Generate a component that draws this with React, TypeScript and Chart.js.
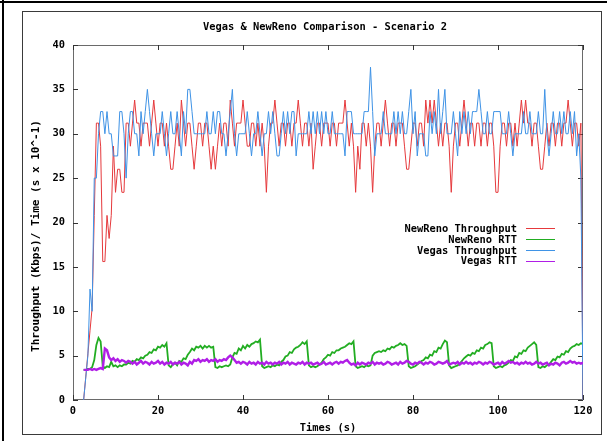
import { useEffect, useRef } from "react";
import { Chart, registerables } from "chart.js";

Chart.register(...registerables);

const TITLE = "Vegas & NewReno Comparison - Scenario 2";
const X_TITLE = "Times (s)";
const Y_TITLE = "Throughput (Kbps)/ Time (s x 10^-1)";

const TIME_START = 2.5;
const TIME_STEP = 0.5;

const xTicks = [0, 20, 40, 60, 80, 100, 120];
const yTicks = [0, 5, 10, 15, 20, 25, 30, 35, 40];

const seriesLabels = ["NewReno Throughput", "NewReno RTT", "Vegas Throughput", "Vegas RTT"];
const seriesColors = ["#e6393c", "#22ad22", "#3f93e6", "#b01ee6"];

const newRenoThroughput = [
  0, 2.6, 5.2, 7.8, 10.4, 20.8, 31.2, 31.2, 28.6, 15.6,
  15.6, 20.8, 18.2, 20.8, 28.6, 23.4, 26, 26, 23.4, 23.4,
  31.2, 31.2, 28.6, 31.2, 33.8, 31.2, 31.2, 28.6, 31.2, 31.2,
  31.2, 28.6, 31.2, 33.8, 31.2, 28.6, 31.2, 31.2, 28.6, 31.2,
  28.6, 26, 26, 28.6, 31.2, 28.6, 33.8, 31.2, 28.6, 31.2,
  31.2, 28.6, 26, 28.6, 31.2, 31.2, 28.6, 31.2, 31.2, 28.6,
  26, 28.6, 26, 28.6, 31.2, 28.6, 31.2, 31.2, 28.6, 33.8,
  31.2, 28.6, 31.2, 31.2, 31.2, 33.8, 31.2, 28.6, 28.6, 31.2,
  31.2, 28.6, 31.2, 28.6, 31.2, 28.6, 23.4, 28.6, 31.2, 31.2,
  33.8, 31.2, 28.6, 31.2, 31.2, 28.6, 31.2, 31.2, 28.6, 31.2,
  31.2, 33.8, 31.2, 28.6, 31.2, 31.2, 28.6, 31.2, 26, 28.6,
  31.2, 31.2, 28.6, 31.2, 31.2, 31.2, 28.6, 31.2, 31.2, 28.6,
  31.2, 31.2, 31.2, 33.8, 31.2, 28.6, 31.2, 28.6, 23.4, 28.6,
  26, 31.2, 31.2, 28.6, 31.2, 28.6, 23.4, 28.6, 31.2, 31.2,
  28.6, 31.2, 33.8, 31.2, 28.6, 31.2, 31.2, 28.6, 31.2, 31.2,
  31.2, 28.6, 26, 26, 28.6, 31.2, 31.2, 28.6, 31.2, 31.2,
  28.6, 33.8, 31.2, 33.8, 31.2, 33.8, 31.2, 28.6, 31.2, 28.6,
  31.2, 31.2, 28.6, 23.4, 28.6, 31.2, 31.2, 28.6, 31.2, 33.8,
  31.2, 28.6, 31.2, 31.2, 28.6, 31.2, 31.2, 28.6, 31.2, 31.2,
  28.6, 31.2, 31.2, 28.6, 23.4, 23.4, 28.6, 31.2, 31.2, 28.6,
  31.2, 31.2, 28.6, 31.2, 28.6, 31.2, 33.8, 31.2, 33.8, 31.2,
  31.2, 28.6, 31.2, 31.2, 28.6, 26, 26, 28.6, 31.2, 28.6,
  31.2, 31.2, 28.6, 31.2, 31.2, 28.6, 31.2, 31.2, 33.8, 31.2,
  28.6, 31.2, 31.2, 28.6, 31.2, 0,
];

const newRenoRtt = [
  3.4, 3.4, 3.5, 3.5, 3.7, 4.5, 6.2, 7.0, 6.6, 3.8,
  3.6, 3.8, 3.7, 4.3, 3.8, 3.9, 3.7, 3.9, 3.8, 4.0,
  4.0, 4.2, 4.1, 4.4, 4.3, 4.6, 4.5, 4.8, 4.7, 5.0,
  5.1, 5.4, 5.3, 5.7, 5.6, 6.0, 5.9, 6.2, 6.0, 6.4,
  3.9, 3.7, 4.0, 4.2, 3.9, 4.4, 4.3, 4.7, 4.6, 5.1,
  5.4, 5.8, 5.6, 6.0, 5.9, 6.1, 5.8, 6.1, 5.9, 6.1,
  5.9, 6.0, 3.7, 3.6, 3.8, 3.7, 3.8, 3.9, 3.8, 4.0,
  4.8, 5.3, 5.2, 5.8, 5.6, 6.1, 5.8, 6.2, 6.0, 6.3,
  6.4, 6.6, 6.5, 6.8, 3.8, 3.6, 3.7, 3.8, 3.7, 3.9,
  3.8, 4.0, 3.9, 4.3, 4.5, 4.9, 5.0, 5.4, 5.3, 5.7,
  5.9, 6.0, 6.2, 6.5, 6.3, 6.6, 3.9, 3.7, 3.8, 3.7,
  3.8, 4.0, 4.2, 4.6, 4.8, 5.1, 5.0, 5.4, 5.3, 5.6,
  5.6, 5.8, 5.9, 6.0, 6.2, 6.4, 6.3, 6.6, 3.8, 3.6,
  3.7, 3.8, 3.7, 3.9, 3.8, 3.9, 5.0, 5.3, 5.4, 5.5,
  5.4, 5.6, 5.5, 5.8, 5.7, 6.0, 5.9, 6.1, 6.2, 6.4,
  6.2, 6.3, 6.1, 3.8, 3.6, 3.7, 3.8, 4.0, 4.2, 4.4,
  4.5, 4.8, 4.7, 5.1, 5.0, 5.5, 5.4, 5.9, 5.8, 6.3,
  6.7, 6.5, 3.9, 3.6, 3.7, 3.8, 3.9, 4.1, 4.4, 4.7,
  4.9, 5.1, 5.0, 5.3, 5.2, 5.6, 5.5, 5.9, 5.8, 6.2,
  6.3, 6.5, 6.4, 3.8, 3.6, 3.7, 3.8, 3.7, 3.9, 4.0,
  4.2, 4.5, 4.4, 4.9, 4.8, 5.3, 5.2, 5.6, 5.5, 5.9,
  6.1, 6.3, 6.5, 6.2, 3.7, 3.6, 3.8, 3.7, 3.9, 4.0,
  4.3, 4.6, 4.5, 4.9, 4.8, 5.2, 5.1, 5.5, 5.4, 5.8,
  6.0, 6.1, 6.3, 6.2, 6.4, 6.3,
];

const vegasThroughput = [
  0, 2.5, 5, 12.5, 10, 25, 25, 30, 32.5, 32.5,
  30, 32.5, 30, 30, 27.5, 27.5, 27.5, 32.5, 32.5, 30,
  25, 30, 32.5, 32.5, 30, 30, 27.5, 32.5, 30, 32.5,
  35, 32.5, 30, 27.5, 30, 30, 30, 32.5, 30, 27.5,
  30, 32.5, 30, 30, 32.5, 30, 27.5, 32.5, 30, 35,
  35, 32.5, 30, 30, 30, 30, 30, 30, 32.5, 30,
  30, 32.5, 30, 32.5, 32.5, 30, 30, 27.5, 30, 32.5,
  35, 30, 27.5, 30, 30, 30, 30, 32.5, 30, 27.5,
  30, 30, 32.5, 30, 27.5, 30, 30, 32.5, 30, 32.5,
  30, 27.5, 27.5, 30, 32.5, 30, 32.5, 30, 32.5, 32.5,
  27.5, 30, 30, 30, 30, 30, 32.5, 30, 32.5, 30,
  32.5, 30, 32.5, 30, 32.5, 30, 30, 32.5, 30, 30,
  30, 30, 30, 27.5, 32.5, 32.5, 32.5, 30, 30, 30,
  30, 30, 32.5, 32.5, 32.5, 37.5, 32.5, 27.5, 30, 30,
  30, 32.5, 30, 30, 30, 30, 32.5, 30, 32.5, 30,
  32.5, 30, 30, 32.5, 35, 30, 32.5, 27.5, 30, 30,
  30, 27.5, 27.5, 32.5, 30, 32.5, 30, 35, 30, 32.5,
  35, 30, 30, 30, 32.5, 30, 27.5, 32.5, 30, 32.5,
  30, 32.5, 30, 32.5, 32.5, 32.5, 35, 32.5, 30, 30,
  32.5, 30, 30, 32.5, 32.5, 32.5, 32.5, 30, 30, 30,
  32.5, 30, 27.5, 30, 30, 30, 30, 32.5, 30, 30,
  32.5, 30, 30, 30, 32.5, 30, 30, 35, 30, 27.5,
  30, 32.5, 30, 30, 32.5, 30, 32.5, 30, 30, 32.5,
  30, 32.5, 27.5, 30, 25, 0,
];

const vegasRtt = [
  3.4, 3.4, 3.4, 3.5, 3.4, 3.5, 3.4, 3.5, 3.6, 3.5,
  5.8, 5.6, 4.8, 4.5, 4.7, 4.4, 4.6, 4.3, 4.5, 4.4,
  4.2, 4.4, 4.3, 4.1, 4.3, 4.0, 4.2, 4.4, 4.1, 4.3,
  4.2, 4.0, 4.3, 4.1, 4.2, 4.4, 4.1, 4.3, 4.0, 4.2,
  4.1, 4.3, 4.0, 4.2, 4.1, 4.3, 4.0, 4.2, 4.1, 3.9,
  4.3, 4.1, 4.5, 4.4, 4.6, 4.3, 4.5, 4.4, 4.6, 4.3,
  4.5, 4.4, 4.6, 4.3, 4.5, 4.4, 4.6, 4.5, 4.8, 5.0,
  4.8, 4.5, 4.2, 4.3, 4.1, 4.3, 4.2, 4.0, 4.3, 4.1,
  4.2, 4.0, 4.3, 4.1, 4.2, 4.0, 4.3, 4.1, 4.2, 4.0,
  4.2, 4.1, 4.3, 4.0, 4.2, 4.1, 4.3, 4.0, 4.2, 4.1,
  4.0, 4.2, 4.1, 4.3, 4.0, 4.2, 4.1, 4.2, 4.0, 4.1,
  4.2, 4.0, 4.1, 4.3, 4.0, 4.1, 4.2, 4.0, 4.2, 4.3,
  4.1, 4.3, 4.2, 4.4, 4.5, 4.2, 4.0, 4.1, 3.9, 4.2,
  4.0, 4.2, 4.1, 4.0, 4.2, 4.1, 4.3, 4.0, 4.2, 4.1,
  4.2, 4.0, 4.1, 4.3, 4.2, 4.0, 4.1, 4.2, 4.0, 4.3,
  4.1, 4.2, 4.4, 4.3, 4.1, 4.0, 4.2, 4.1, 4.3, 4.2,
  4.0, 4.2, 4.1, 4.3, 4.2, 4.0, 4.1, 4.3, 4.2, 4.1,
  4.2, 4.4, 4.0, 4.1, 4.2, 4.1, 4.3, 4.0, 4.2, 4.1,
  4.3, 4.1, 4.2, 4.0, 4.2, 4.1, 4.3, 4.2, 4.0, 4.2,
  4.1, 4.3, 4.2, 4.0, 4.1, 4.2, 4.0, 4.3, 4.1, 4.2,
  4.4, 4.2, 4.3, 4.1, 4.2, 4.0, 4.2, 4.1, 4.3, 4.1,
  4.2, 4.0, 4.1, 4.3, 4.1, 4.2, 4.0, 4.1, 4.2, 3.9,
  4.1, 4.0, 4.2, 4.1, 3.9, 4.2, 4.3, 4.1, 4.2, 4.4,
  4.2, 4.3, 4.1, 4.2, 4.1, 4.2,
];

const times = newRenoThroughput.map((_, i) => TIME_START + i * TIME_STEP);
const seriesValues = [newRenoThroughput, newRenoRtt, vegasThroughput, vegasRtt];
const seriesWidths = [1, 1.8, 1, 2.4];

const FONT_FAMILY = '"DejaVu Sans Mono", "Liberation Mono", monospace';
const FONT = `bold 10.4px ${FONT_FAMILY}`;
const Y_TITLE_FONT = `bold 11px ${FONT_FAMILY}`;

const gnuplotDecor = {
  id: "gnuplotDecor",
  beforeDraw(chart: any) {
    const { ctx, width, height } = chart;
    ctx.save();
    ctx.fillStyle = "#ffffff";
    ctx.fillRect(0, 0, width, height);
    ctx.fillStyle = "#000000";
    ctx.fillRect(0, 1, width, 2);
    ctx.fillRect(2, 0, 2, height);
    ctx.strokeStyle = "#3a3a3a";
    ctx.lineWidth = 1;
    ctx.strokeRect(22.5, 11.5, 579, 423);
    ctx.restore();
  },
  beforeDatasetsDraw(chart: any) {
    const { ctx, chartArea, scales } = chart;
    const { left, right, top, bottom } = chartArea;
    ctx.save();
    ctx.strokeStyle = "#6a6a6a";
    ctx.lineWidth = 1;
    ctx.strokeRect(left + 0.5, top + 0.5, right - left - 1, bottom - top - 1);
    ctx.strokeStyle = "#333333";
    const tl = 5;
    ctx.beginPath();
    for (const v of yTicks) {
      const py = Math.round(scales.y.getPixelForValue(v)) + 0.5;
      ctx.moveTo(left, py);
      ctx.lineTo(left + tl, py);
      ctx.moveTo(right - tl, py);
      ctx.lineTo(right, py);
    }
    for (const v of xTicks) {
      const px = Math.round(scales.x.getPixelForValue(v)) + 0.5;
      ctx.moveTo(px, bottom);
      ctx.lineTo(px, bottom - tl);
      ctx.moveTo(px, top);
      ctx.lineTo(px, top + tl);
    }
    ctx.stroke();
    ctx.restore();
  },
  afterDraw(chart: any) {
    const { ctx, chartArea } = chart;
    const { left, right } = chartArea;
    ctx.save();
    ctx.fillStyle = "#000000";
    ctx.font = FONT;
    ctx.textAlign = "center";
    ctx.textBaseline = "middle";
    ctx.fillText(TITLE, (left + right) / 2 - 3, 27);
    ctx.fillText(X_TITLE, (left + right) / 2, 428);
    ctx.save();
    ctx.font = Y_TITLE_FONT;
    ctx.translate(36, 236);
    ctx.rotate(-Math.PI / 2);
    ctx.fillText(Y_TITLE, 0, 0);
    ctx.restore();
    ctx.textAlign = "right";
    seriesLabels.forEach((label, i) => {
      const yy = 229 + i * 10.9;
      ctx.fillStyle = "#000000";
      ctx.fillText(label, 517, yy);
      ctx.strokeStyle = seriesColors[i];
      ctx.lineWidth = 1;
      ctx.beginPath();
      const ly = Math.round(yy - 1) + 0.5;
      ctx.moveTo(526, ly);
      ctx.lineTo(555, ly);
      ctx.stroke();
    });
    ctx.restore();
  },
};

export default function App() {
  const canvasRef = useRef<HTMLCanvasElement | null>(null);

  useEffect(() => {
    const canvas = canvasRef.current;
    if (!canvas) return;
    const datasets = seriesValues.map((vals, i) => ({
      label: seriesLabels[i],
      data: vals.map((v, j) => ({ x: times[j], y: v })),
      borderColor: seriesColors[i],
      backgroundColor: seriesColors[i],
      borderWidth: seriesWidths[i],
      pointRadius: 0,
      tension: 0,
      fill: false,
      order: 4 - i,
    }));
    const tickFont = { family: FONT_FAMILY, size: 10.4, weight: "bold" as const };
    const chart = new Chart(canvas, {
      type: "line",
      data: { datasets },
      options: {
        animation: false,
        responsive: false,
        devicePixelRatio: 1,
        layout: { padding: { top: 45, right: 24, bottom: 0, left: 0 } },
        plugins: {
          legend: { display: false },
          title: { display: false },
          tooltip: { enabled: false },
        },
        scales: {
          x: {
            type: "linear",
            min: 0,
            max: 120,
            afterBuildTicks: (s: any) => {
              s.ticks = xTicks.map((v) => ({ value: v }));
            },
            afterFit: (s: any) => {
              s.height = 41;
            },
            grid: { display: false, drawTicks: false },
            border: { display: false },
            ticks: { padding: 5, color: "#000", font: tickFont, maxRotation: 0, autoSkip: false },
          },
          y: {
            type: "linear",
            min: 0,
            max: 40,
            afterBuildTicks: (s: any) => {
              s.ticks = yTicks.map((v) => ({ value: v }));
            },
            afterFit: (s: any) => {
              s.width = 73;
            },
            grid: { display: false, drawTicks: false },
            border: { display: false },
            ticks: { padding: 8, color: "#000", font: tickFont, autoSkip: false },
          },
        },
      },
      plugins: [gnuplotDecor],
    });
    return () => chart.destroy();
  }, []);

  return (
    <div style={{ position: "absolute", left: 0, top: 0, width: 607, height: 441, background: "#fff" }}>
      <canvas ref={canvasRef} width={607} height={441} style={{ width: 607, height: 441, display: "block" }} />
    </div>
  );
}
